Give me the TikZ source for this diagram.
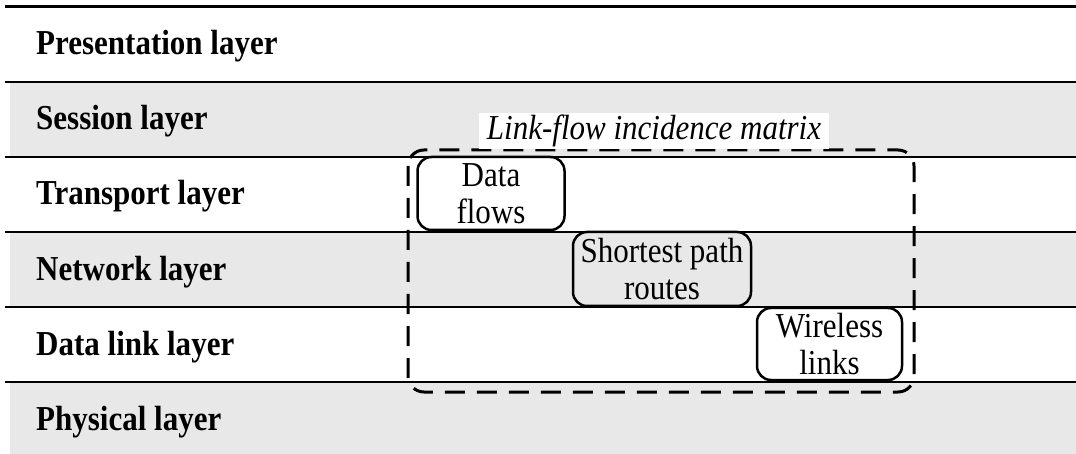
\documentclass[tikz,border=0pt]{standalone}
\usepackage{fontspec}
\setmainfont{Liberation Serif}[FakeStretch=0.886]
\definecolor{layergray}{RGB}{232,232,232}
\tikzset{
	layername/.style = {anchor=base west, inner sep=0pt, font=\fontsize{35}{37}\selectfont\bfseries},
	taskbox/.style = {draw, line width=2.5pt, rounded corners=14pt, align=center, inner sep=0pt, font=\fontsize{35}{37}\selectfont},
	rowline/.style = {line width=2pt}
}
\begin{document}
\begin{tikzpicture}[x=1pt, y=-1pt]
		\useasboundingbox (0,0) rectangle (1076,454);
		
		% gray rows
		\fill [layergray] (10,82) rectangle (1076,157);
		\fill [layergray] (10,232) rectangle (1076,307);
		\fill [layergray] (10,382) rectangle (1076,454);
		
		% row separators
		\draw [rowline, line width=3pt] (5,7) -- (1076,7);
		\draw [rowline] (5,82) -- (1076,82);
		\draw [rowline] (5,157) -- (1076,157);
		\draw [rowline] (5,232) -- (1076,232);
		\draw [rowline] (5,307) -- (1076,307);
		\draw [rowline] (5,382) -- (1076,382);
		
		\node [layername] (presentation) at (36,55) {Presentation layer};
		\node [layername] (session) at (36,130) {Session layer};
		\node [layername] (transport) at (36,205) {Transport layer};
		\node [layername] (network) at (36,280) {Network layer};
		\node [layername] (datalink) at (36,355) {Data link layer};
		\node [layername] (physical) at (36,430) {Physical layer};
		
		% incidence matrix frame
		\draw [line width=3pt, dash pattern=on 20pt off 12pt, rounded corners=16pt] (408,150) rectangle (914,392);
		\node [fill=white, inner xsep=8pt, inner ysep=2pt, anchor=base, font=\fontsize{35}{37}\selectfont\itshape] (matrix) at (654,140) {Link-flow incidence matrix};
		
		\node [taskbox, minimum width=147pt, minimum height=73pt] (flows) at (491,193.5) {Data\\flows};
		\node [taskbox, minimum width=178pt, minimum height=74pt] (routes) at (662,269) {Shortest path\\routes};
		\node [taskbox, minimum width=145pt, minimum height=72pt] (links) at (829.5,344) {Wireless\\links};
		
		\end{tikzpicture}
\end{document}
